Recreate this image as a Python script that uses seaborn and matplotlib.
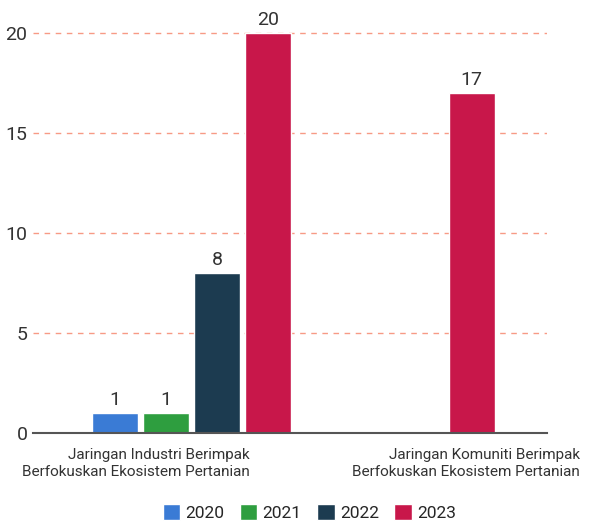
import pandas as pd
import seaborn as sns
import matplotlib.pyplot as plt
from matplotlib.transforms import blended_transform_factory

categories = ["Jaringan Industri Berimpak\nBerfokuskan Ekosistem Pertanian",
              "Jaringan Komuniti Berimpak\nBerfokuskan Ekosistem Pertanian"]
years = ["2020", "2021", "2022", "2023"]
values_2020 = [1, 0]
values_2021 = [1, 0]
values_2022 = [8, 0]
values_2023 = [20, 17]
colors = ["#3a7bd5", "#2e9e3f", "#1c3b50", "#c8174a"]

rows = []
for yr, vals in zip(years, [values_2020, values_2021, values_2022, values_2023]):
    for cat, v in zip(categories, vals):
        rows.append({"Category": cat, "Year": yr, "Count": v})
df = pd.DataFrame(rows)

sns.set_style("white")
plt.rcParams["font.family"] = ["Roboto", "DejaVu Sans"]

fig = plt.figure(figsize=(5.95, 5.25), dpi=100)
ax = fig.add_axes([0.0555, 0.1752, 0.8635, 0.80])

sns.barplot(data=df, x="Category", y="Count", hue="Year", palette=colors,
            width=1.0, gap=0.1, ax=ax, legend=True, saturation=1)

for cont in ax.containers:
    labels = [f"{v:.0f}" if v > 0 else "" for v in cont.datavalues]
    ax.bar_label(cont, labels=labels, padding=3, fontsize=14, color="#333333")

ax.set_ylim(0, 21)
ax.set_xlim(-0.777, 1.743)
ax.set_yticks([0, 5, 10, 15, 20])
ax.yaxis.grid(True, linestyle=(0, (4, 4)), color="#f79a85", linewidth=1)
ax.set_axisbelow(True)
for s in ["top", "right", "left"]:
    ax.spines[s].set_visible(False)
ax.spines["bottom"].set_color("#555555")
ax.spines["bottom"].set_linewidth(1.5)
ax.tick_params(axis="y", length=0, labelsize=14, labelcolor="#333333", pad=4)
ax.set_xticks([])
ax.set_xlabel("")
ax.set_ylabel("")

# category labels, right aligned below the groups
trans = blended_transform_factory(ax.transData, ax.transAxes)
for x_right, cat in zip([0.287, 1.904], categories):
    ax.text(x_right, -0.035, cat, transform=trans, ha="right", va="top",
            multialignment="right", fontsize=11, color="#333333",
            linespacing=1.3, clip_on=False)

handles, labels = ax.get_legend_handles_labels()
ax.get_legend().remove()
fig.legend(handles, labels, loc="lower center", ncol=4, frameon=False,
           fontsize=12.5, handlelength=1.0, handleheight=1.0,
           handletextpad=0.3, columnspacing=0.9,
           bbox_to_anchor=(0.52, -0.022))

fig.savefig("out.png", dpi=100, facecolor="white")
